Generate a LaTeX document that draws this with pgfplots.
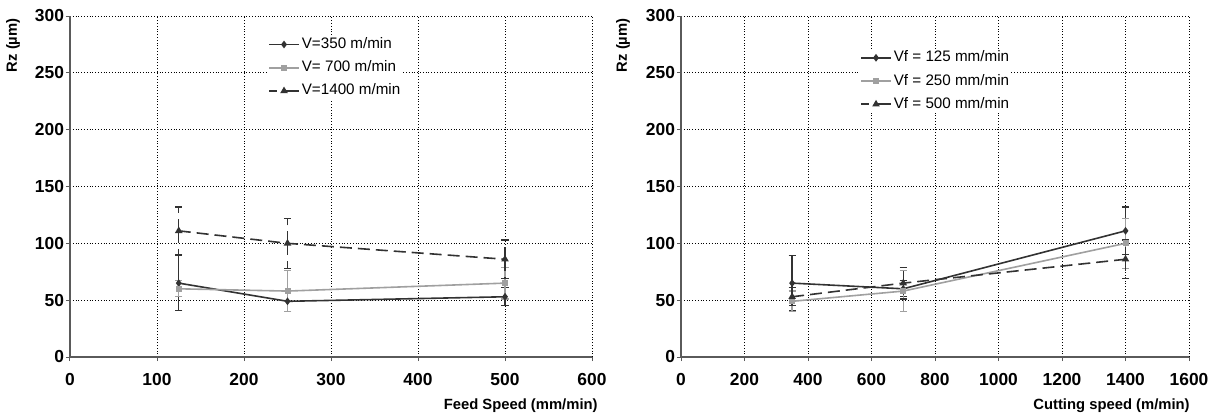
\documentclass[border=0pt]{standalone}
\usepackage{fontspec}
\setmainfont{Liberation Sans}
\usepackage{pgfplots}
\pgfplotsset{compat=1.18}

\definecolor{darkser}{RGB}{50,50,50}
\definecolor{lightser}{RGB}{160,160,160}
\definecolor{axisgray}{RGB}{90,90,90}

\pgfplotstableread{
x y e
125 65 24
250 49 9
500 53 8
}\lvA
\pgfplotstableread{
x y e
125 60 7
250 58 18
500 65 14
}\lvB
\pgfplotstableread{
x y e
125 111 21
250 100 22
500 86 17
}\lvC
\pgfplotstableread{
x y e
350 65 24
700 60 7
1400 111 21
}\rvA
\pgfplotstableread{
x y e
350 49 9
700 58 18
1400 100 22
}\rvB
\pgfplotstableread{
x y e
350 53 8
700 65 14
1400 86 17
}\rvC

\pgfplotsset{
  rzplot/.style={
    scale only axis,
    height=170.5pt,
    ymin=0, ymax=300, ytick={0,50,...,300},
    axis x line=bottom, axis y line=left,
    axis line style={-, draw=axisgray, line width=0.7pt},
    tick align=outside, major tick length=2pt,
    tick style={draw=axisgray, line width=0.5pt},
    grid=major,
    major grid style={densely dotted, draw=black, line width=0.45pt},
    ticklabel style={font=\fontsize{8.7}{10}\selectfont\bfseries},
    yticklabel style={xshift=2.5pt},
    xticklabel style={yshift=-2.5pt},
    /pgf/number format/assume math mode=true,
    /pgf/number format/1000 sep={},
    label style={font=\fontsize{7.4}{9}\selectfont\bfseries, inner sep=0pt},
    legend style={draw=none, fill=white, inner sep=0pt, anchor=north west,
      font=\fontsize{7.6}{9}\selectfont, row sep=2.6pt,
      nodes={inner sep=1pt}},
    legend cell align=left,
    legend image code/.code={\draw[##1] (0pt,0pt) -- (15pt,0pt); \draw[##1, only marks] plot coordinates {(7.5pt,0pt)};},
    error bars/y dir=both, error bars/y explicit,
    error bars/error mark options={solid, mark size=1.8pt, line width=0.6pt, rotate=90},
    error bars/error bar style={line width=0.7pt},
  },
  serA/.style={darkser, solid, line width=0.8pt, mark=diamond*, mark size=1.3pt, mark options={solid}},
  serB/.style={lightser, solid, line width=0.8pt, mark=square*, mark size=1.1pt, mark options={solid}},
  serC/.style={darkser, dash pattern=on 6pt off 3pt, line width=0.8pt, mark=triangle*, mark size=1.4pt, mark options={solid},
    legend image post style={dash pattern=on 4pt off 2.5pt on 10pt off 0.01pt}},
}

\begin{document}
\begin{tikzpicture}
\useasboundingbox (0,0) rectangle (604.5pt,207pt);

\begin{axis}[rzplot,
  at={(35pt,28.5pt)}, anchor=south west,
  width=261pt,
  xmin=0, xmax=600, xtick={0,100,...,600},
  xlabel={Feed Speed (mm/min)},
  xlabel style={at={(axis description cs:1.0115,-0.155)}, anchor=base east},
  legend style={at={(rel axis cs:0.379,0.944)}},
]
\addplot+[serA] table[x=x, y=y, y error=e] {\lvA};
\addlegendentry{V=350 m/min}
\addplot+[serB] table[x=x, y=y, y error=e] {\lvB};
\addlegendentry{V= 700 m/min}
\addplot+[serC] table[x=x, y=y, y error=e] {\lvC};
\addlegendentry{V=1400 m/min}
\end{axis}
\node[rotate=90, anchor=east, inner sep=0pt, font=\fontsize{7.4}{9}\selectfont\bfseries] at (6.5pt,198pt) {Rz (µm)};

\begin{axis}[rzplot,
  at={(340.5pt,28.5pt)}, anchor=south west,
  width=254pt,
  xmin=0, xmax=1600, xtick={0,200,...,1600},
  xlabel={Cutting speed (m/min)},
  xlabel style={at={(axis description cs:1.002,-0.155)}, anchor=base east},
  legend style={at={(rel axis cs:0.352,0.905)}},
]
\addplot+[serA] table[x=x, y=y, y error=e] {\rvA};
\addlegendentry{Vf = 125 mm/min}
\addplot+[serB] table[x=x, y=y, y error=e] {\rvB};
\addlegendentry{Vf = 250 mm/min}
\addplot+[serC] table[x=x, y=y, y error=e] {\rvC};
\addlegendentry{Vf = 500 mm/min}
\end{axis}
\node[rotate=90, anchor=east, inner sep=0pt, font=\fontsize{7.4}{9}\selectfont\bfseries] at (311.5pt,198pt) {Rz (µm)};
\end{tikzpicture}
\end{document}
